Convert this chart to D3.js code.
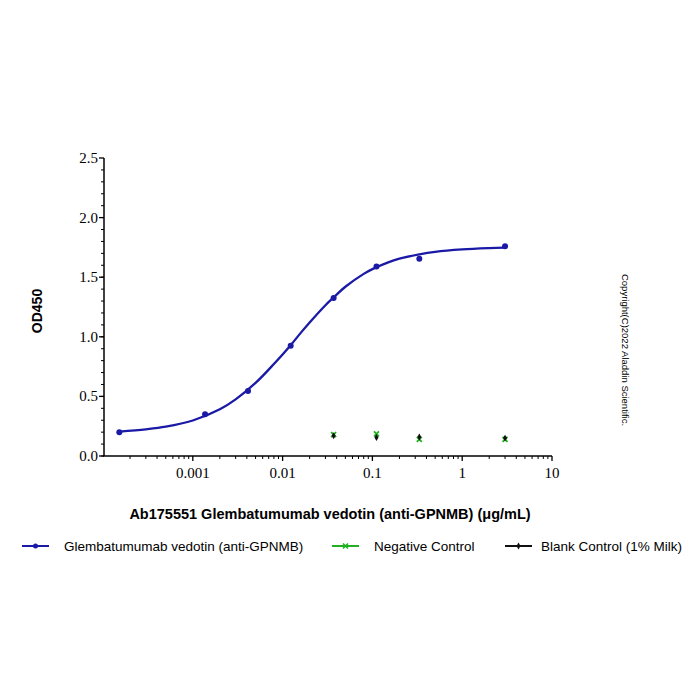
<!DOCTYPE html>
<html>
<head>
<meta charset="utf-8">
<script src="https://cdn.jsdelivr.net/npm/d3@7"></script>
<style>
  body { margin: 0; background: #fff; }
  svg text { fill: #000; }
</style>
</head>
<body>
<svg id="chart" width="700" height="700"></svg>
<script>
// concentrations (ug/mL), 3-fold dilution series
var concs = [0.000152, 0.00137, 0.00412, 0.0123, 0.037, 0.111, 0.333, 3];
var sampleOD = [0.20, 0.35, 0.545, 0.925, 1.325, 1.59, 1.655, 1.76];

// fitted curve
var curveConc = [0.000152, 0.0003, 0.0005, 0.001, 0.002, 0.003, 0.005, 0.008, 0.0123, 0.016, 0.02, 0.03, 0.037, 0.05, 0.08, 0.1, 0.15, 0.2, 0.333, 0.5, 1, 2, 3];
var curveOD = [0.205, 0.224, 0.246, 0.298, 0.392, 0.475, 0.613, 0.772, 0.93, 1.035, 1.12, 1.265, 1.33, 1.42, 1.528, 1.568, 1.625, 1.655, 1.692, 1.713, 1.733, 1.744, 1.748];

var controlConc = [0.037, 0.111, 0.333, 3];
var negativeOD = [0.18, 0.185, 0.14, 0.14];
var blankOD = [0.17, 0.155, 0.16, 0.15];

var xTicks = [0.001, 0.01, 0.1, 1, 10];
var yTicks = [0, 0.5, 1.0, 1.5, 2.0, 2.5];

var legendNames = ['Glembatumumab vedotin (anti-GPNMB)', 'Negative Control', 'Blank Control (1% Milk)'];
var legendColors = ['#1a1aa6', '#22b022', '#111111'];

var svg = d3.select('#chart');

var x = d3.scaleLog().domain([0.0001, 10]).range([103, 552]);
var y = d3.scaleLinear().domain([0, 2.5]).range([456, 158]);

var serif = '"Liberation Serif", "Times New Roman", serif';
var sans = '"Liberation Sans", Arial, sans-serif';

// minor ticks
var xMinor = [];
for (var e = -4; e < 1; e++) {
  for (var k = 2; k <= 9; k++) xMinor.push(k * Math.pow(10, e));
}
var yMinor = d3.range(0, 25).map(function (i) { return i / 10; });

var axes = svg.append('g').attr('class', 'axes');

// x axis line + ticks
axes.append('line')
  .attr('x1', x.range()[0]).attr('x2', x.range()[1])
  .attr('y1', 456).attr('y2', 456)
  .attr('stroke', '#000').attr('stroke-width', 1.5);
axes.selectAll('line.xminor').data(xMinor).enter().append('line')
  .attr('class', 'xminor')
  .attr('x1', function (d) { return x(d); }).attr('x2', function (d) { return x(d); })
  .attr('y1', 456).attr('y2', 459)
  .attr('stroke', '#000').attr('stroke-width', 1);
axes.selectAll('line.xmajor').data(xTicks).enter().append('line')
  .attr('class', 'xmajor')
  .attr('x1', function (d) { return x(d); }).attr('x2', function (d) { return x(d); })
  .attr('y1', 456).attr('y2', 461)
  .attr('stroke', '#000').attr('stroke-width', 1.3);
axes.selectAll('text.xlab').data(xTicks).enter().append('text')
  .attr('class', 'xlab')
  .attr('x', function (d) { return x(d); })
  .attr('y', 478)
  .attr('text-anchor', 'middle')
  .style('font-family', serif).style('font-size', '15px')
  .text(function (d) { return String(d); });

// y axis line + ticks
axes.append('line')
  .attr('x1', 104).attr('x2', 104)
  .attr('y1', y(2.5)).attr('y2', y(0))
  .attr('stroke', '#000').attr('stroke-width', 1.5);
axes.selectAll('line.yminor').data(yMinor).enter().append('line')
  .attr('class', 'yminor')
  .attr('x1', 101).attr('x2', 104)
  .attr('y1', function (d) { return y(d); }).attr('y2', function (d) { return y(d); })
  .attr('stroke', '#000').attr('stroke-width', 1);
axes.selectAll('line.ymajor').data(yTicks).enter().append('line')
  .attr('class', 'ymajor')
  .attr('x1', 99).attr('x2', 104)
  .attr('y1', function (d) { return y(d); }).attr('y2', function (d) { return y(d); })
  .attr('stroke', '#000').attr('stroke-width', 1.3);
axes.selectAll('text.ylab').data(yTicks).enter().append('text')
  .attr('class', 'ylab')
  .attr('x', 98)
  .attr('y', function (d) { return y(d) + 5; })
  .attr('text-anchor', 'end')
  .style('font-family', serif).style('font-size', '15px')
  .text(function (d) { return d.toFixed(1); });

// axis titles
svg.append('text')
  .attr('x', 330).attr('y', 519)
  .attr('text-anchor', 'middle')
  .style('font-family', sans).style('font-size', '14.5px').style('font-weight', 'bold')
  .text('Ab175551 Glembatumumab vedotin (anti-GPNMB) (μg/mL)');
svg.append('text')
  .attr('transform', 'translate(42,311) rotate(-90)')
  .attr('text-anchor', 'middle')
  .style('font-family', sans).style('font-size', '14px').style('font-weight', 'bold')
  .text('OD450');

// copyright
svg.append('text')
  .attr('transform', 'translate(622,350) rotate(90)')
  .attr('text-anchor', 'middle')
  .style('font-family', sans).style('font-size', '9.5px')
  .text('Copyright(C)2022 Aladdin Scientific.');

// fitted curve
var line = d3.line()
  .x(function (d) { return x(d[0]); })
  .y(function (d) { return y(d[1]); })
  .curve(d3.curveCatmullRom.alpha(0.5));
svg.append('path')
  .datum(d3.zip(curveConc, curveOD))
  .attr('d', line)
  .attr('fill', 'none')
  .attr('stroke', legendColors[0])
  .attr('stroke-width', 2.3);

// sample points
svg.selectAll('circle.sample').data(d3.zip(concs, sampleOD)).enter().append('circle')
  .attr('class', 'sample')
  .attr('cx', function (d) { return x(d[0]); })
  .attr('cy', function (d) { return y(d[1]); })
  .attr('r', 3)
  .attr('fill', legendColors[0]);

// negative control (x marks)
svg.selectAll('path.neg').data(d3.zip(controlConc, negativeOD)).enter().append('path')
  .attr('class', 'neg')
  .attr('transform', function (d) { return 'translate(' + x(d[0]) + ',' + y(d[1]) + ')'; })
  .attr('d', 'M-2.5,-2.5L2.5,2.5M-2.5,2.5L2.5,-2.5')
  .attr('stroke', legendColors[1]).attr('stroke-width', 1.8);

// blank control
svg.selectAll('path.blank').data(d3.zip(controlConc, blankOD)).enter().append('path')
  .attr('class', 'blank')
  .attr('transform', function (d) { return 'translate(' + x(d[0]) + ',' + y(d[1]) + ')'; })
  .attr('d', d3.symbol().type(d3.symbolDiamond).size(14))
  .attr('fill', legendColors[2]);

// legend
var legendX = [22, 332, 505];
var legend = svg.selectAll('g.legend').data(legendNames).enter().append('g')
  .attr('class', 'legend')
  .attr('transform', function (d, i) { return 'translate(' + legendX[i] + ',546)'; });
legend.append('line')
  .attr('x1', 0).attr('x2', 27).attr('y1', 0).attr('y2', 0)
  .attr('stroke', function (d, i) { return legendColors[i]; })
  .attr('stroke-width', 2);
legend.each(function (d, i) {
  var g = d3.select(this);
  if (i === 0) {
    g.append('circle').attr('cx', 13.5).attr('cy', 0).attr('r', 2.5).attr('fill', legendColors[0]);
  } else if (i === 1) {
    g.append('path').attr('transform', 'translate(13.5,0)')
      .attr('d', 'M-2.5,-2.5L2.5,2.5M-2.5,2.5L2.5,-2.5')
      .attr('stroke', legendColors[1]).attr('stroke-width', 1.6);
  } else {
    g.append('path').attr('transform', 'translate(13.5,0)')
      .attr('d', d3.symbol().type(d3.symbolDiamond).size(14))
      .attr('fill', legendColors[2]);
  }
});
legend.append('text')
  .attr('x', function (d, i) { return i === 2 ? 36 : 42; })
  .attr('y', 5)
  .style('font-family', sans).style('font-size', '13.5px')
  .text(function (d) { return d; });
</script>
</body>
</html>
